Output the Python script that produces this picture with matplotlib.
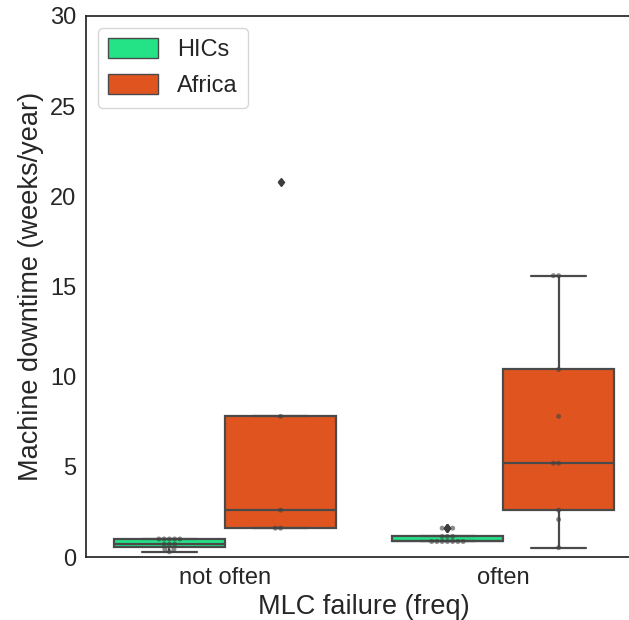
import matplotlib
matplotlib.use("Agg")
import matplotlib.pyplot as plt
from matplotlib.patches import Patch
import pandas as pd
import seaborn as sns

# downtime values (weeks/year)
hics_not_often = [0.29, 0.43, 0.43, 0.71, 0.71, 0.71, 1.0, 1.0, 1.0, 1.0, 1.0]
hics_often = [0.86, 0.86, 0.86, 0.86, 0.86, 0.86, 0.86, 1.14, 1.14, 1.14, 1.6, 1.6, 1.6]
africa_not_often = [1.6, 1.6, 2.6, 7.8, 20.8]
africa_often = [0.52, 2.08, 2.6, 5.2, 5.2, 7.8, 10.4, 15.6, 15.6]

categories = ["not often", "often"]
groups = ["HICs", "Africa"]
colors = {"HICs": "#24E286", "Africa": "#E0551F"}

rows = []
for g, cat, vals in [("HICs", "not often", hics_not_often),
                     ("HICs", "often", hics_often),
                     ("Africa", "not often", africa_not_often),
                     ("Africa", "often", africa_often)]:
    for v in vals:
        rows.append({"freq": cat, "region": g, "downtime": v})
df = pd.DataFrame(rows)

sns.set_style("white")
plt.rcParams["font.family"] = ["Liberation Sans", "DejaVu Sans"]

fig = plt.figure(figsize=(6.29, 6.2), dpi=100)
# the original image is cropped on the right, so the axes run past the edge
ax = fig.add_axes([0.1367, 0.1016, 0.884, 0.8726])

sns.boxplot(data=df, x="freq", y="downtime", hue="region", order=categories,
            hue_order=groups, palette=colors, saturation=1, width=0.8,
            linewidth=1.6, linecolor="#4a4a4a", fliersize=4.5,
            flierprops={"marker": "d", "markerfacecolor": "#3a3a3a",
                        "markeredgecolor": "#3a3a3a"},
            legend=False, ax=ax)
sns.swarmplot(data=df, x="freq", y="downtime", hue="region", order=categories,
              hue_order=groups, dodge=True, palette=["#404040", "#404040"],
              size=3.6, alpha=0.6, legend=False, ax=ax)

ax.set_xlim(-0.5, 1.5)
ax.set_ylim(0, 30)
ax.set_yticks([0, 5, 10, 15, 20, 25, 30])
ax.set_xlabel("MLC failure (freq)", fontsize=19.5)
ax.set_ylabel("Machine downtime (weeks/year)", fontsize=19.5)
ax.tick_params(labelsize=17)
for s in ax.spines.values():
    s.set_color("#262626")
    s.set_linewidth(1.25)

handles = [Patch(facecolor=colors[g], edgecolor="#4a4a4a", label=g) for g in groups]
ax.legend(handles=handles, loc="upper left", fontsize=17, handlelength=2.1,
          handleheight=0.9, borderpad=0.45, labelspacing=0.55)

fig.savefig("out.png", dpi=100)
